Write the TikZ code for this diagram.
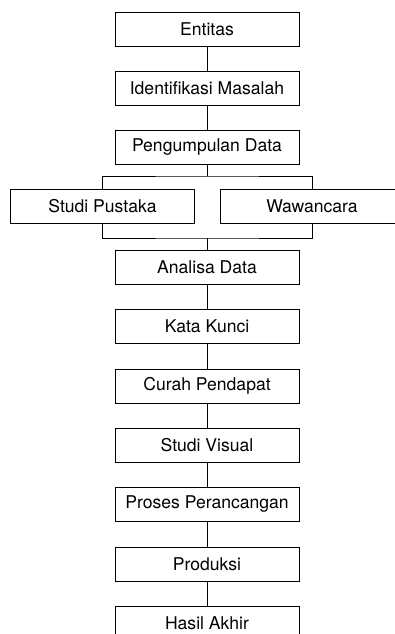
\documentclass[tikz,border=0pt]{standalone}
\usepackage{fontspec}
\setmainfont{TeX Gyre Heros}
\usepackage{tikz}

\begin{document}
\begin{tikzpicture}[x=0.03cm,y=0.03cm,
  box/.style={draw,line width=0.8pt,minimum width=5.52cm,minimum height=1.02cm,
    inner sep=0pt,font=\fontsize{15}{18}\selectfont}]
  \useasboundingbox (0,0) rectangle (395,-634);
  \node[box] (entitas) at (207,-29) {Entitas};
  \node[box] (identifikasi) at (207,-88) {Identifikasi Masalah};
  \node[box] (pengumpulan) at (207,-147.5) {Pengumpulan Data};
  \node[box] (pustaka) at (102.5,-206) {Studi Pustaka};
  \node[box] (wawancara) at (312,-206) {Wawancara};
  \node[box] (analisa) at (207,-267) {Analisa Data};
  \node[box] (kunci) at (207,-326) {Kata Kunci};
  \node[box] (curah) at (207,-386) {Curah Pendapat};
  \node[box] (visual) at (207,-445) {Studi Visual};
  \node[box] (proses) at (207,-504) {Proses Perancangan};
  \node[box] (produksi) at (207,-564) {Produksi};
  \node[box] (hasil) at (207,-623) {Hasil Akhir};
  \coordinate (split) at (207,-176);
  \coordinate (merge) at (207,-238);
  % main chain
  \foreach \a/\b in {entitas/identifikasi,identifikasi/pengumpulan,analisa/kunci,
      kunci/curah,curah/visual,visual/proses,proses/produksi,produksi/hasil}
    \draw[line width=0.8pt] (\a) -- (\b);
  % branch and merge
  \draw[line width=0.8pt] (pengumpulan) -- (split);
  \draw[line width=0.8pt] (pustaka) |- (split) -| (wawancara);
  \draw[line width=0.8pt] (pustaka) |- (merge) -| (wawancara);
  \draw[line width=0.8pt] (merge) -- (analisa);
\end{tikzpicture}
\end{document}
